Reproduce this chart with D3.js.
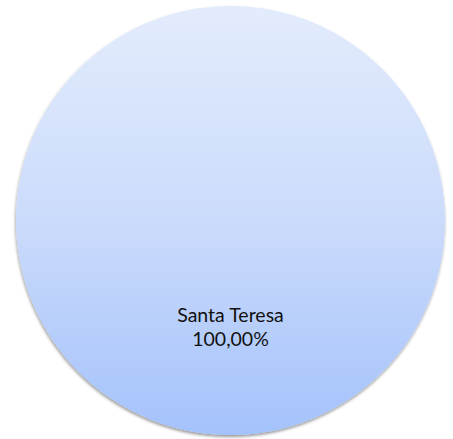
<!DOCTYPE html>
<html>
<head>
<meta charset="utf-8">
<script src="https://cdn.jsdelivr.net/npm/d3@7"></script>
<style>
  body { margin: 0; background: #fff; }
</style>
</head>
<body>
<div id="chart"></div>
<script>
// data
var categories = ["Santa Teresa"];
var values = [100];
var labels = ["100,00%"];

var width = 453, height = 439;
var cx = 230.5, cy = 220.5, radius = 214.5;

var svg = d3.select("#chart")
    .append("svg")
    .attr("width", width)
    .attr("height", height);

var defs = svg.append("defs");

// vertical gradient like the office fill
var grad = defs.append("linearGradient")
    .attr("id", "fill")
    .attr("x1", 0).attr("y1", 0)
    .attr("x2", 0).attr("y2", 1);
grad.append("stop").attr("offset", "0%").attr("stop-color", "#e3ecfc");
grad.append("stop").attr("offset", "50%").attr("stop-color", "#cbdbfb");
grad.append("stop").attr("offset", "100%").attr("stop-color", "#a4c2fb");

var shadow = defs.append("filter")
    .attr("id", "shadow")
    .attr("x", "-10%").attr("y", "-10%")
    .attr("width", "120%").attr("height", "120%");
shadow.append("feDropShadow")
    .attr("dx", -0.5)
    .attr("dy", 2)
    .attr("stdDeviation", 1.6)
    .attr("flood-color", "#000")
    .attr("flood-opacity", 0.4);

var pie = d3.pie().sort(null).value(d => d.value);
var arcs = pie(categories.map((c, i) => ({ name: c, value: values[i], label: labels[i] })));

var arc = d3.arc().innerRadius(0).outerRadius(radius);

var g = svg.append("g")
    .attr("transform", "translate(" + cx + "," + cy + ")");

g.selectAll("path")
    .data(arcs)
    .enter()
    .append("path")
    .attr("d", arc)
    .attr("fill", "url(#fill)")
    .attr("filter", "url(#shadow)");

// labels sit in the lower part of the pie
var text = g.selectAll("text.lbl")
    .data(arcs)
    .enter()
    .append("text")
    .attr("class", "lbl")
    .attr("text-anchor", "middle")
    .attr("font-family", "Lato, 'Open Sans', sans-serif")
    .attr("font-size", 19.5)
    .attr("fill", "#111");

text.append("tspan")
    .attr("x", 0)
    .attr("y", radius * 0.475)
    .text(d => d.data.name);
text.append("tspan")
    .attr("x", 0)
    .attr("y", radius * 0.475 + 24)
    .text(d => d.data.label);
</script>
</body>
</html>
